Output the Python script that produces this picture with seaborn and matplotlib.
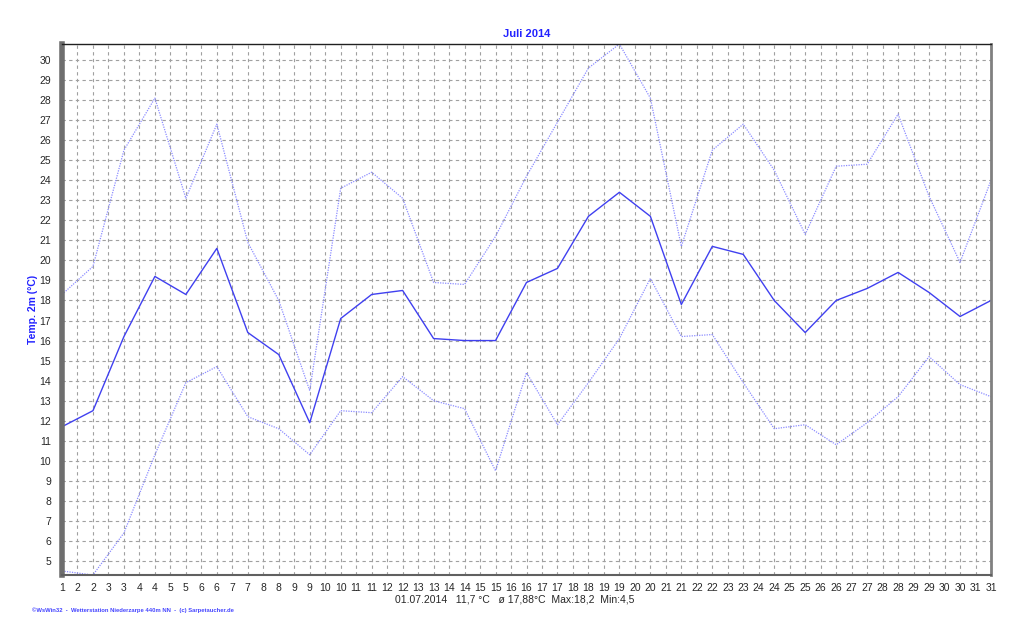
import numpy as np
import pandas as pd
import matplotlib
matplotlib.use('Agg')
import matplotlib.pyplot as plt
import seaborn as sns

# Daily values, July 2014
days = list(range(1, 32))
temp_mean = [11.7, 12.5, 16.2, 19.2, 18.3, 20.6, 16.4, 15.3, 11.9, 17.1,
             18.3, 18.5, 16.1, 16.0, 16.0, 18.9, 19.6, 22.2, 23.4, 22.2,
             17.8, 20.7, 20.3, 18.0, 16.4, 18.0, 18.6, 19.4, 18.4, 17.2, 18.0]
temp_max = [18.3, 19.7, 25.5, 28.1, 23.1, 26.8, 20.9, 18.0, 13.5, 23.6,
            24.4, 23.1, 18.9, 18.8, 21.2, 24.2, 26.9, 29.6, 30.8, 28.1,
            20.7, 25.5, 26.8, 24.5, 21.3, 24.7, 24.8, 27.3, 23.2, 19.9, 24.0]
temp_min = [4.5, 4.3, 6.4, 10.3, 13.9, 14.7, 12.2, 11.6, 10.3, 12.5,
            12.4, 14.2, 13.0, 12.6, 9.5, 14.4, 11.8, 13.9, 16.1, 19.1,
            16.2, 16.3, 13.9, 11.6, 11.8, 10.8, 11.9, 13.2, 15.2, 13.8, 13.2]

title = 'Juli 2014'
ylabel = 'Temp. 2m (°C)'
footer = '01.07.2014   11,7 °C   ø 17,88°C  Max:18,2  Min:4,5'
credit = '©WsWin32  -  Wetterstation Niederzarpe 440m NN  -  (c) Sarpetaucher.de'

df = pd.DataFrame({'day': days, 'mean': temp_mean, 'max': temp_max, 'min': temp_min})

sns.set_style('white')
plt.rcParams['font.family'] = ['Liberation Sans', 'DejaVu Sans']

fig = plt.figure(figsize=(10.24, 6.4), dpi=100)
ax = fig.add_axes([62 / 1024, 1 - 575 / 640, (991 - 62) / 1024, (575 - 44) / 640])

light = '#8c8cff'
dark = '#4040f0'
sns.lineplot(data=df, x='day', y='max', ax=ax, color=light, lw=0.9, linestyle=(0, (1, 1)))
sns.lineplot(data=df, x='day', y='min', ax=ax, color=light, lw=0.9, linestyle=(0, (1, 1)))
sns.lineplot(data=df, x='day', y='mean', ax=ax, color=dark, lw=1.0)

ax.set_xlim(1, 31)
ax.set_ylim(4.3, 30.8)

xt = np.arange(1, 31.01, 0.5)
ax.set_xticks(xt)
ax.set_xticklabels([str(int(np.ceil(v))) for v in xt], fontsize=7.5)
ax.set_xticks(np.arange(1, 31.01, 0.125), minor=True)
ax.set_yticks(range(5, 31))
ax.set_yticklabels([str(v) for v in range(5, 31)], fontsize=7.5)

ax.grid(True, which='major', color='#a0a0a0', linestyle=(0, (3, 3)), lw=0.8)
ax.tick_params(axis='x', which='major', length=4, width=0.8, color='#707070', pad=1.5)
ax.tick_params(axis='x', which='minor', length=2, width=0.6, color='#707070')
ax.tick_params(axis='y', length=0, pad=8)

ax.spines['left'].set_color('#6e6e6e')
ax.spines['left'].set_linewidth(4)
ax.spines['right'].set_color('#808080')
ax.spines['right'].set_linewidth(2)
ax.spines['bottom'].set_color('#606060')
ax.spines['bottom'].set_linewidth(1.5)
ax.spines['top'].set_color('#202020')
ax.spines['top'].set_linewidth(1)

ax.set_xlabel('')
ax.set_ylabel(ylabel, color='#2222ff', fontsize=7.5, fontweight='bold', labelpad=1)
ax.set_title(title, color='#2222ff', fontsize=8, fontweight='bold', pad=5)

fig.text(515 / 1024, 1 - 599 / 640, footer, ha='center', va='center', fontsize=7.5)
fig.text(32 / 1024, 1 - 610 / 640, credit, ha='left', va='center', fontsize=4.2,
         color='#4444ff', fontweight='bold')

fig.savefig('out.png', dpi=100)
